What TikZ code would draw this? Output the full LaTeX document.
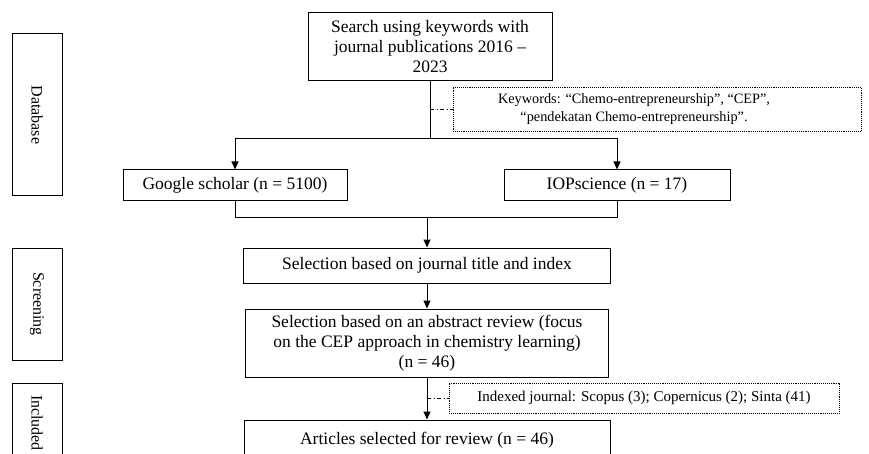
\documentclass[tikz,border=0pt]{standalone}
\usepackage{fontspec}
\setmainfont{Liberation Serif}
\usetikzlibrary{arrows.meta}
\tikzset{
  box/.style={draw, line width=1pt, align=center, inner sep=0pt, font=\fontsize{17.5}{20}\selectfont},
  note/.style={draw, densely dotted, line width=0.9pt, inner sep=0pt},
  side/.style={draw, line width=1pt, rotate=-90, inner sep=0pt, minimum height=50pt, font=\fontsize{16}{18}\selectfont},
  link/.style={line width=1pt},
  arr/.style={line width=1pt, -{Triangle[length=8pt,width=7pt]}},
  dashdot/.style={line width=0.8pt, dash pattern=on 4pt off 2.5pt on 1pt off 2.5pt}
}
\begin{document}
\begin{tikzpicture}[x=1pt,y=-1pt]
\useasboundingbox (0,0) rectangle (869,454);
\clip (0,0) rectangle (869,454);
% side labels
\node[side, minimum width=162pt] (db) at (37,115) {Database};
\node[side, minimum width=112pt] (sc) at (37,304) {Screening};
\node[side, minimum width=80pt] (inc) at (37,423) {Included};
% main boxes
\node[box, minimum width=244pt, minimum height=68pt] (top) at (430,47) {Search using keywords with\\journal publications 2016 –\\2023};
\node[note, minimum width=408pt, minimum height=44pt, font=\fontsize{14.3}{18}\selectfont] (kw) at (657,109) {\begin{tabular}{@{}c@{}}Keywords: “Chemo-entrepreneurship”, “CEP”,\\“pendekatan Chemo-entrepreneurship”.\end{tabular}\hspace*{46pt}};
\node[box, minimum width=224pt, minimum height=31pt] (gs) at (235,185.5) {Google scholar (n = 5100)};
\node[box, minimum width=226pt, minimum height=31pt] (iop) at (617,185.5) {IOPscience (n = 17)};
\node[box, minimum width=367pt, minimum height=35pt] (title) at (427,265.5) {Selection based on journal title and index};
\node[box, minimum width=363pt, minimum height=68pt] (abs) at (427,343) {Selection based on an abstract review (focus\\on the CEP approach in chemistry learning)\\(n = 46)};
\node[note, minimum width=390pt, minimum height=30pt, font=\fontsize{15}{18}\selectfont] (idx) at (644,398) {Indexed journal: Scopus (3); Copernicus (2); Sinta (41)};
\node[box, minimum width=366pt, minimum height=40pt] (art) at (427,440) {Articles selected for review (n = 46)};
% connectors
\coordinate (j1) at (430,139);
\coordinate (j2) at (427,218);
\draw[link] (top.south) -- (j1);
\draw[arr] (j1) -| (gs.north);
\draw[arr] (j1) -| (iop.north);
\draw[dashdot] (top.south |- kw.west) -- (kw.west);
\draw[link] (gs.south) |- (j2);
\draw[link] (iop.south) |- (j2);
\draw[arr] (j2) -- (title.north);
\draw[arr] (title.south) -- (abs.north);
\draw[arr] (abs.south) -- (art.north);
\draw[dashdot] (abs.south |- idx.west) -- (idx.west);
\end{tikzpicture}
\end{document}
